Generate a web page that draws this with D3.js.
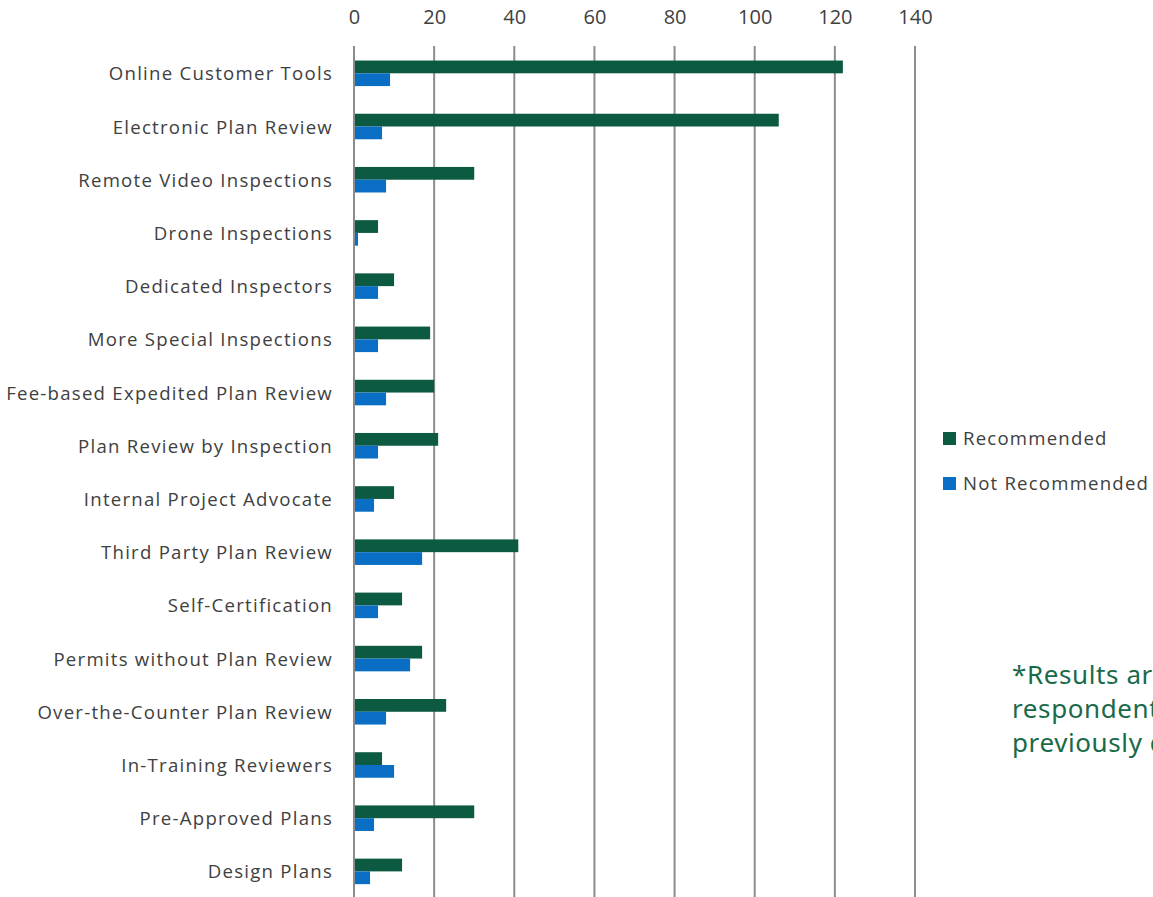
<!DOCTYPE html>
<html>
<head>
<meta charset="utf-8">
<script src="https://cdn.jsdelivr.net/npm/d3@7"></script>
<style>
  html, body { margin: 0; padding: 0; background: #fff; overflow: hidden; }
  svg { display: block; }
</style>
</head>
<body>
<svg id="chart" width="1153" height="897"></svg>
<script>
// chart data
var categories = [
  "Online Customer Tools", "Electronic Plan Review", "Remote Video Inspections",
  "Drone Inspections", "Dedicated Inspectors", "More Special Inspections",
  "Fee-based Expedited Plan Review", "Plan Review by Inspection",
  "Internal Project Advocate", "Third Party Plan Review", "Self-Certification",
  "Permits without Plan Review", "Over-the-Counter Plan Review",
  "In-Training Reviewers", "Pre-Approved Plans", "Design Plans"
];
var recommended =    [122, 106, 30, 6, 10, 19, 20, 21, 10, 41, 12, 17, 23, 7, 30, 12];
var notRecommended = [9, 7, 8, 1, 6, 6, 8, 6, 5, 17, 6, 14, 8, 10, 5, 4];
var seriesNames = ["Recommended", "Not Recommended"];
var tickValues = [0, 20, 40, 60, 80, 100, 120, 140];
var noteLines = ["*Results are based on", "respondents who have", "previously done so"];

var colors = { "Recommended": "#0c5a42", "Not Recommended": "#0a6fc4" };
var labelFont = "Open Sans, Liberation Sans, sans-serif";

var svg = d3.select("#chart");

var x = d3.scaleLinear().domain([0, 140]).range([354, 915]);
var y = d3.scaleBand().domain(categories).range([46.7, 898]).paddingInner(0.52).paddingOuter(0.26);
var ySub = d3.scaleBand().domain(seriesNames).range([0, y.bandwidth()]);

// gridlines
svg.append("g").selectAll("line")
  .data(tickValues)
  .join("line")
  .attr("x1", function (d) { return x(d); })
  .attr("x2", function (d) { return x(d); })
  .attr("y1", 46)
  .attr("y2", 897)
  .attr("stroke", "#8c8c8c")
  .attr("stroke-width", 2);

// top axis labels
var xAxis = svg.append("g")
  .attr("transform", "translate(0,24)")
  .call(d3.axisTop(x).tickValues(tickValues).tickSize(0).tickPadding(0));
xAxis.select(".domain").remove();
xAxis.selectAll("text")
  .attr("font-family", labelFont)
  .attr("font-size", 20)
  .attr("fill", "#404040");

// bars
var rows = categories.map(function (c, i) {
  return { cat: c, values: [
    { s: "Recommended", v: recommended[i] },
    { s: "Not Recommended", v: notRecommended[i] }
  ] };
});

var g = svg.append("g").selectAll("g")
  .data(rows)
  .join("g")
  .attr("transform", function (d) { return "translate(0," + y(d.cat) + ")"; });

g.selectAll("rect")
  .data(function (d) { return d.values; })
  .join("rect")
  .attr("x", x(0) + 1)
  .attr("y", function (d) { return ySub(d.s); })
  .attr("width", function (d) { return x(d.v) - x(0) - 1; })
  .attr("height", ySub.bandwidth())
  .attr("fill", function (d) { return colors[d.s]; });

// category labels
var yAxis = svg.append("g")
  .attr("transform", "translate(333,0)")
  .call(d3.axisLeft(y).tickSize(0).tickPadding(0));
yAxis.select(".domain").remove();
yAxis.selectAll("text")
  .attr("font-family", labelFont)
  .attr("font-size", 18.6)
  .attr("letter-spacing", "1.25px")
  .attr("dy", "0.38em")
  .attr("fill", "#404040");

// legend
var legend = svg.append("g").selectAll("g")
  .data(seriesNames)
  .join("g")
  .attr("transform", function (d, i) { return "translate(943," + (432 + i * 45) + ")"; });
legend.append("rect")
  .attr("width", 13).attr("height", 13)
  .attr("fill", function (d) { return colors[d]; });
legend.append("text")
  .attr("x", 20).attr("y", 6.5).attr("dy", "0.36em")
  .attr("font-family", labelFont)
  .attr("font-size", 18.6)
  .attr("letter-spacing", "1.2px")
  .attr("fill", "#404040")
  .text(function (d) { return d; });

// note
svg.append("g").selectAll("text")
  .data(noteLines)
  .join("text")
  .attr("x", 1012)
  .attr("y", function (d, i) { return 684 + i * 34; })
  .attr("font-family", "Noto Sans, sans-serif")
  .attr("font-size", 26)
  .attr("letter-spacing", "0.6px")
  .attr("fill", "#1a6a4a")
  .text(function (d) { return d; });
</script>
</body>
</html>
